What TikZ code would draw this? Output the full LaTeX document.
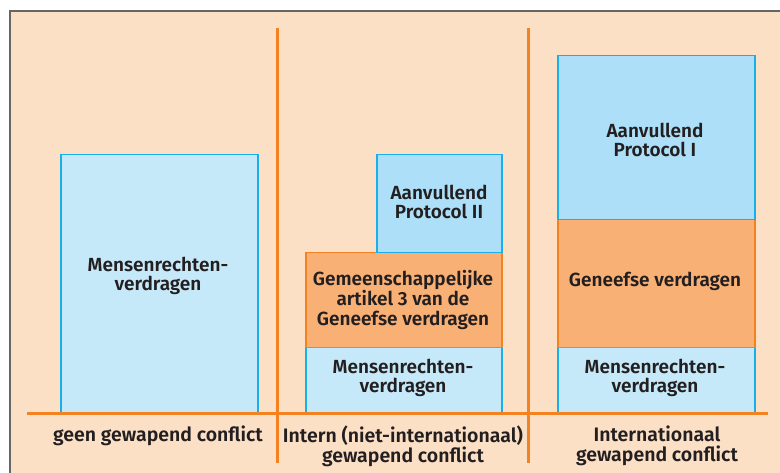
\documentclass[tikz,border=0pt]{standalone}
\usepackage{fontspec}
\setmainfont{Fira Sans}[BoldFont={Fira Sans SemiBold}]
\definecolor{bgpeach}{HTML}{FCE0C6}
\definecolor{lblue}{HTML}{C6E9F9}
\definecolor{mblue}{HTML}{ADE0F8}
\definecolor{bblue}{HTML}{1AAFE8}
\definecolor{ofill}{HTML}{F8B075}
\definecolor{oline}{HTML}{F58220}
\definecolor{txt}{HTML}{231F20}
\tikzset{
  box/.style={draw=bblue, line width=1.5pt, anchor=north west, inner sep=0pt},
  lbox/.style={box, fill=lblue},
  mbox/.style={box, fill=mblue},
  obox/.style={box, fill=ofill, draw=oline},
  sep/.style={draw=oline, line width=3pt},
  txtnode/.style={align=center, font=\fontsize{19}{19.8}\selectfont\bfseries, text=txt, anchor=center, inner sep=0pt},
  lab/.style={align=center, font=\fontsize{19.5}{19.5}\selectfont\bfseries, text=txt, anchor=north, inner sep=0pt}
}
\begin{document}
\begin{tikzpicture}[x=1pt,y=-1pt]
\useasboundingbox (0,0) rectangle (780,473);
\fill[white] (0,0) rectangle (780,473);
\fill[bgpeach] (10,11) rectangle (780,473);
\draw[gray!80!black, line width=1.2pt] (10,473) -- (10,11) -- (780,11);
% column 1
\node[lbox, minimum width=197pt, minimum height=259pt] (b1) at (60,154) {};
\node[txtnode] (t1) at (158,276) {Mensenrechten-\\verdragen};
% column 2
\node[lbox, minimum width=196pt, minimum height=66pt] (m2) at (305,347) {};
\node[txtnode] (tm2) at (403,378) {Mensenrechten-\\verdragen};
\node[obox, minimum width=196pt, minimum height=95pt] (o2) at (305,252) {};
\node[txtnode] (to2) at (403,300) {Gemeenschappelijke\\artikel 3 van de\\Geneefse verdragen};
\node[mbox, minimum width=125pt, minimum height=98pt] (p2) at (376,154) {};
\node[txtnode] (tp2) at (439,202) {Aanvullend\\Protocol II};
% column 3
\node[lbox, minimum width=197pt, minimum height=66pt] (m3) at (557,347) {};
\node[txtnode] (tm3) at (655,378) {Mensenrechten-\\verdragen};
\node[obox, minimum width=197pt, minimum height=128pt] (o3) at (557,219) {};
\node[txtnode] (to3) at (655,281) {Geneefse verdragen};
\node[mbox, minimum width=197pt, minimum height=164pt] (p3) at (557,55) {};
\node[txtnode] (tp3) at (655,140) {Aanvullend\\Protocol I};
% separators
\coordinate (v1t) at (277,28); \coordinate (v1b) at (277,463);
\coordinate (v2t) at (528,28); \coordinate (v2b) at (528,463);
\coordinate (hl) at (27,413); \coordinate (hr) at (768,413);
\draw[sep] (v1t) -- (v1b);
\draw[sep] (v2t) -- (v2b);
\draw[sep] (hl) -- (hr);
% bottom labels
\node[lab] (c1) at (158,426) {geen gewapend conflict};
\node[lab] (c2) at (403,426) {Intern (niet-internationaal)\\gewapend conflict};
\node[lab] (c3) at (657,426) {Internationaal\\gewapend conflict};
\end{tikzpicture}
\end{document}
